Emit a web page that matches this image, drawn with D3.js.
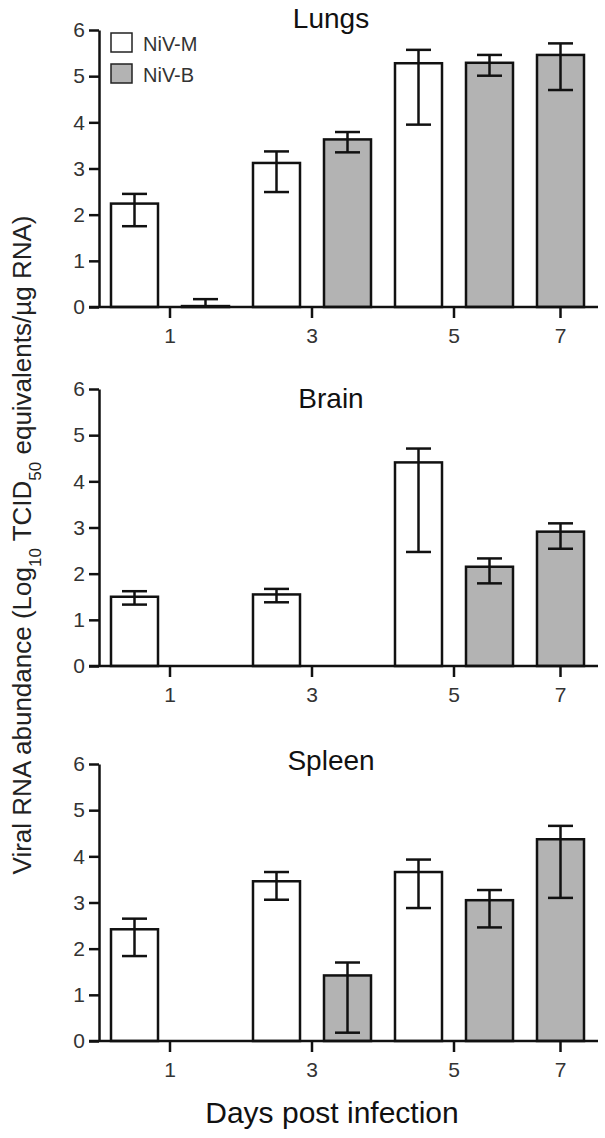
<!DOCTYPE html>
<html>
<head>
<meta charset="utf-8">
<script src="https://cdn.jsdelivr.net/npm/d3@7"></script>
<style>
  body { margin: 0; background: #fff; }
  svg { display: block; font-family: "Liberation Sans", Arial, sans-serif; }
</style>
</head>
<body>
<div id="chart"></div>
<script>
// Data: [mean, low, high] per day (1, 3, 5, 7); null = no bar
const tissues = ['Lungs', 'Brain', 'Spleen'];
const days = [1, 3, 5, 7];
const strains = ['NiV-M', 'NiV-B'];
const yTicks = [0, 1, 2, 3, 4, 5, 6];

const lungsM  = [[2.24, 1.75, 2.45], [3.12, 2.49, 3.37], [5.28, 3.95, 5.57], null];
const lungsB  = [[0.02, 0.00, 0.17], [3.63, 3.35, 3.79], [5.29, 5.01, 5.46], [5.46, 4.70, 5.71]];
const brainM  = [[1.50, 1.33, 1.62], [1.55, 1.38, 1.67], [4.41, 2.47, 4.71], null];
const brainB  = [null, null, [2.15, 1.79, 2.33], [2.91, 2.54, 3.09]];
const spleenM = [[2.42, 1.84, 2.65], [3.46, 3.06, 3.66], [3.66, 2.88, 3.93], null];
const spleenB = [null, [1.42, 0.18, 1.70], [3.05, 2.46, 3.27], [4.37, 3.10, 4.66]];

const panelSeries = [[lungsM, lungsB], [brainM, brainB], [spleenM, spleenB]];

// Layout
const WIDTH = 605, HEIGHT = 1138;
const AXIS_X = 99;          // y axis line
const AXIS_END = 598;       // right end of x axis line
const PANEL_TOP = [30, 389, 764];
const PANEL_H = 277;
const TITLE_Y = [28, 408, 770];
const TITLE_X = 331;
const FILLS = ['#ffffff', '#b3b3b3'];
const LINE_W = 2.5;
const FONT = '"Liberation Sans", Arial, sans-serif';

// slot keys: every day/strain pair that has a bar in any panel
const slots = [];
days.forEach((d, di) => {
    strains.forEach((s, si) => {
        const used = panelSeries.some(p => p[si][di] !== null);
        if (used) slots.push(`${s}|${d}`);
    });
});

const x = d3.scaleBand()
    .domain(slots)
    .range([111, 584])
    .paddingInner(0.338)
    .paddingOuter(0);

// tick position of a day = middle of its bars
function dayPos(d) {
    const keys = slots.filter(k => +k.split('|')[1] === d);
    const first = x(keys[0]);
    const last = x(keys[keys.length - 1]) + x.bandwidth();
    return (first + last) / 2;
}

const svg = d3.select('#chart').append('svg')
    .attr('width', WIDTH)
    .attr('height', HEIGHT);

tissues.forEach((tissue, pi) => {
    const top = PANEL_TOP[pi];
    const y = d3.scaleLinear().domain([0, 6]).range([top + PANEL_H, top]);
    const g = svg.append('g');

    // bars
    const bars = [];
    strains.forEach((s, si) => {
        panelSeries[pi][si].forEach((v, di) => {
            if (v) bars.push({ key: `${s}|${days[di]}`, si, mean: v[0], low: v[1], high: v[2] });
        });
    });

    g.selectAll('rect.bar')
        .data(bars)
        .enter()
        .append('rect')
        .attr('class', 'bar')
        .attr('x', d => x(d.key))
        .attr('y', d => y(d.mean))
        .attr('width', x.bandwidth())
        .attr('height', d => y(0) - y(d.mean))
        .attr('fill', d => FILLS[d.si])
        .attr('stroke', '#111')
        .attr('stroke-width', LINE_W);

    // error bars
    const err = g.selectAll('g.err')
        .data(bars)
        .enter()
        .append('g')
        .attr('class', 'err')
        .attr('stroke', '#111')
        .attr('stroke-width', LINE_W);
    const cx = d => x(d.key) + x.bandwidth() / 2;
    err.append('line')
        .attr('x1', cx).attr('x2', cx)
        .attr('y1', d => y(d.low)).attr('y2', d => y(d.high));
    err.append('line')
        .attr('x1', d => cx(d) - 12.5).attr('x2', d => cx(d) + 12.5)
        .attr('y1', d => y(d.high)).attr('y2', d => y(d.high));
    err.filter(d => d.low > 0).append('line')
        .attr('x1', d => cx(d) - 12.5).attr('x2', d => cx(d) + 12.5)
        .attr('y1', d => y(d.low)).attr('y2', d => y(d.low));

    // y axis
    const yAxis = g.append('g')
        .attr('transform', `translate(${AXIS_X},0)`)
        .call(d3.axisLeft(y).tickValues(yTicks).tickFormat(d3.format('d'))
            .tickSize(10).tickSizeOuter(0).tickPadding(4));
    yAxis.attr('font-size', null).attr('font-family', null);
    yAxis.selectAll('path, line').attr('stroke', '#111').attr('stroke-width', LINE_W);
    yAxis.selectAll('text')
        .style('font-size', '21px')
        .style('font-family', FONT)
        .attr('fill', '#333');

    // x axis line and ticks
    g.append('line')
        .attr('x1', AXIS_X - 10).attr('x2', AXIS_END)
        .attr('y1', y(0)).attr('y2', y(0))
        .attr('stroke', '#111').attr('stroke-width', LINE_W);
    g.selectAll('line.xtick')
        .data(days)
        .enter()
        .append('line')
        .attr('class', 'xtick')
        .attr('x1', d => dayPos(d)).attr('x2', d => dayPos(d))
        .attr('y1', y(0)).attr('y2', y(0) + 11)
        .attr('stroke', '#111').attr('stroke-width', LINE_W);
    g.selectAll('text.xlab')
        .data(days)
        .enter()
        .append('text')
        .attr('class', 'xlab')
        .attr('x', d => dayPos(d))
        .attr('y', y(0) + 36)
        .attr('text-anchor', 'middle')
        .style('font-size', '21px')
        .attr('fill', '#333')
        .text(d => d);

    // panel title
    g.append('text')
        .attr('x', TITLE_X)
        .attr('y', TITLE_Y[pi])
        .attr('text-anchor', 'middle')
        .style('font-size', '28px')
        .attr('fill', '#111')
        .text(tissue);
});

// legend (top panel)
const legend = svg.append('g')
    .selectAll('g')
    .data(strains)
    .enter()
    .append('g')
    .attr('transform', (d, i) => `translate(111,${33 + i * 31})`);
legend.append('rect')
    .attr('width', 21).attr('height', 19)
    .attr('fill', (d, i) => FILLS[i])
    .attr('stroke', '#222').attr('stroke-width', 1.5);
legend.append('text')
    .attr('x', 32).attr('y', 18)
    .style('font-size', '20px')
    .attr('fill', '#333')
    .text(d => d);

// y axis title with subscripts
const yTitle = svg.append('text')
    .attr('transform', 'translate(31,545) rotate(-90)')
    .attr('text-anchor', 'middle')
    .style('font-size', '26px')
    .attr('fill', '#222');
yTitle.append('tspan').text('Viral RNA abundance (Log');
yTitle.append('tspan').attr('baseline-shift', 'sub').style('font-size', '17px').text('10');
yTitle.append('tspan').text(' TCID');
yTitle.append('tspan').attr('baseline-shift', 'sub').style('font-size', '17px').text('50');
yTitle.append('tspan').text(' equivalents/µg RNA)');

// x axis title
svg.append('text')
    .attr('x', 332)
    .attr('y', 1123)
    .attr('text-anchor', 'middle')
    .style('font-size', '30px')
    .attr('fill', '#111')
    .text('Days post infection');
</script>
</body>
</html>
